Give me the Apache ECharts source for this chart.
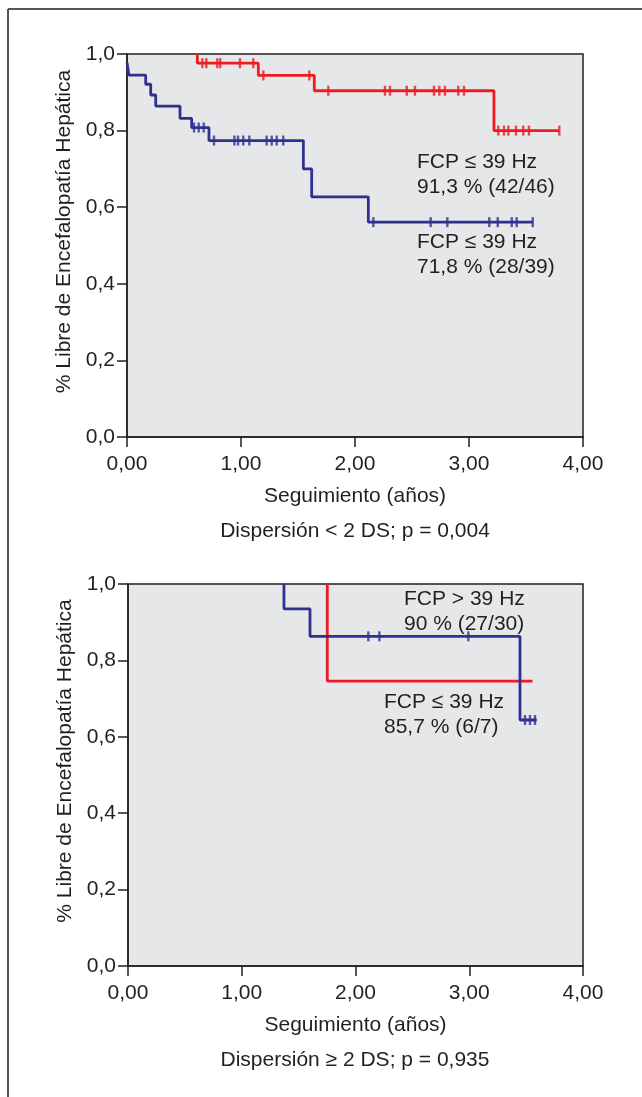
<!DOCTYPE html>
<html><head><meta charset="utf-8">
<script src="https://cdn.jsdelivr.net/npm/echarts@6/dist/echarts.min.js"></script>
<style>html,body{margin:0;padding:0;background:#fff}#c{width:642px;height:1097px}</style>
</head><body><div id="c"></div>
<script>
// ---- Top chart (Dispersión < 2 DS) ----
const redTopStart = [0.617, 1.0];
const redTopDropTimes = [0.617, 1.152, 1.643, 3.219];
const redTopDropValues = [0.976, 0.944, 0.904, 0.800];
const redTopEnd = 3.792;
const redTopCensored = [0.661, 0.696, 0.792, 0.818, 0.991, 1.108, 1.196, 1.599, 1.766, 2.263, 2.307, 2.454, 2.526, 2.693, 2.740, 2.789, 2.906, 2.956, 3.257, 3.307, 3.345, 3.412, 3.476, 3.526, 3.792];

const blueTopStart = [0, 0.978];
const blueTopDropTimes = [0.016, 0.164, 0.208, 0.252, 0.465, 0.567, 0.719, 1.547, 1.620, 2.117];
const blueTopDropValues = [0.945, 0.921, 0.893, 0.864, 0.832, 0.808, 0.774, 0.700, 0.627, 0.561];
const blueTopEnd = 3.559;
const blueTopCensored = [0.588, 0.629, 0.673, 0.763, 0.942, 0.974, 1.020, 1.073, 1.225, 1.269, 1.313, 1.371, 2.161, 2.664, 2.810, 3.178, 3.252, 3.375, 3.418, 3.559];

// ---- Bottom chart (Dispersión >= 2 DS) ----
const blueBotStart = [1.371, 1.0];
const blueBotDropTimes = [1.371, 1.600, 3.446];
const blueBotDropValues = [0.935, 0.863, 0.644];
const blueBotEnd = 3.593;
const blueBotCensored = [2.113, 2.210, 2.992, 3.490, 3.534, 3.578];

const redBotStart = [1.752, 1.0];
const redBotDropTimes = [1.752];
const redBotDropValues = [0.746];
const redBotEnd = 3.556;
const redBotCensored = [];

// ---- Axis ticks and texts ----
const xTicks = [0, 1, 2, 3, 4];
const yTicks = [0, 0.2, 0.4, 0.6, 0.8, 1.0];
const xName = 'Seguimiento (años)';
const yName = '% Libre de Encefalopatía Hepática';
const topLabels = ['FCP ≤ 39 Hz', '91,3 % (42/46)', 'FCP ≤ 39 Hz', '71,8 % (28/39)'];
const botLabels = ['FCP > 39 Hz', '90 % (27/30)', 'FCP ≤ 39 Hz', '85,7 % (6/7)'];
const captions = ['Dispersión < 2 DS; p = 0,004', 'Dispersión ≥ 2 DS; p = 0,935'];

const RED = '#ed1c24', BLUE = '#2e3192', INK = '#231f20';
const FONT = "'Liberation Sans', Arial, Helvetica, sans-serif";
const FS = 21;

function km(start, dropTimes, dropValues, endTime) {
  const pts = [[start[0], start[1]]];
  let v = start[1];
  dropTimes.forEach((t, i) => { pts.push([t, v]); v = dropValues[i]; pts.push([t, v]); });
  pts.push([endTime, v]);
  return pts;
}
function valAt(start, dropTimes, dropValues, t) {
  let v = start[1];
  dropTimes.forEach((d, i) => { if (t >= d) v = dropValues[i]; });
  return v;
}
function censorPts(start, dropTimes, dropValues, cens) {
  return cens.map(t => [t, valAt(start, dropTimes, dropValues, t)]);
}
function lineS(idx, data, color) {
  return { type: 'line', xAxisIndex: idx, yAxisIndex: idx, data, showSymbol: false, symbol: 'none',
    lineStyle: { color, width: 2.8 }, itemStyle: { color }, z: 3, animation: false, silent: true };
}
function censS(idx, data, color) {
  return { type: 'scatter', xAxisIndex: idx, yAxisIndex: idx, data, symbol: 'rect', symbolSize: [2.4, 10],
    itemStyle: { color }, z: 4, animation: false, silent: true };
}
function xAx(idx) {
  return { gridIndex: idx, type: 'value', min: xTicks[0], max: xTicks[xTicks.length - 1], interval: xTicks[1] - xTicks[0],
    axisLine: { show: true, lineStyle: { color: INK, width: 1.5 } },
    axisTick: { show: true, length: 10, lineStyle: { color: INK, width: 1.5 } },
    axisLabel: { fontSize: FS, color: INK, fontFamily: FONT, margin: 17, formatter: v => v.toFixed(2).replace('.', ',') },
    splitLine: { show: false },
    name: xName, nameLocation: 'middle', nameGap: 49,
    nameTextStyle: { fontSize: FS, color: INK, fontFamily: FONT } };
}
function yAx(idx) {
  return { gridIndex: idx, type: 'value', min: yTicks[0], max: yTicks[yTicks.length - 1], interval: yTicks[1] - yTicks[0],
    axisLine: { show: true, lineStyle: { color: INK, width: 1.5 } },
    axisTick: { show: true, length: 10, lineStyle: { color: INK, width: 1.5 } },
    axisLabel: { fontSize: FS, color: INK, fontFamily: FONT, margin: 12, formatter: v => v.toFixed(1).replace('.', ',') },
    splitLine: { show: false },
    name: yName, nameLocation: 'middle', nameGap: 50, nameRotate: 90,
    nameTextStyle: { fontSize: FS, color: INK, fontFamily: FONT, padding: [0, 0, 0, 28] } };
}
function txt(text, x, y, align) {
  return { type: 'text', x, y, silent: true,
    style: { text, fill: INK, font: FS + 'px ' + FONT, textAlign: align || 'left', textVerticalAlign: 'middle', verticalAlign: 'middle' } };
}

const chart = echarts.init(document.getElementById('c'), null, { renderer: 'canvas' });
chart.setOption({
  animation: false,
  backgroundColor: '#ffffff',
  grid: [
    { left: 127, top: 54, width: 456, height: 383, show: true, backgroundColor: '#e6e7e8', borderColor: INK, borderWidth: 1.5 },
    { left: 128, top: 584, width: 455, height: 382, show: true, backgroundColor: '#e6e7e8', borderColor: INK, borderWidth: 1.5 }
  ],
  xAxis: [xAx(0), xAx(1)],
  yAxis: [yAx(0), yAx(1)],
  series: [
    lineS(0, km(redTopStart, redTopDropTimes, redTopDropValues, redTopEnd), RED),
    censS(0, censorPts(redTopStart, redTopDropTimes, redTopDropValues, redTopCensored), RED),
    lineS(0, km(blueTopStart, blueTopDropTimes, blueTopDropValues, blueTopEnd), BLUE),
    censS(0, censorPts(blueTopStart, blueTopDropTimes, blueTopDropValues, blueTopCensored), BLUE),
    lineS(1, km(redBotStart, redBotDropTimes, redBotDropValues, redBotEnd), RED),
    censS(1, censorPts(redBotStart, redBotDropTimes, redBotDropValues, redBotCensored), RED),
    lineS(1, km(blueBotStart, blueBotDropTimes, blueBotDropValues, blueBotEnd), BLUE),
    censS(1, censorPts(blueBotStart, blueBotDropTimes, blueBotDropValues, blueBotCensored), BLUE)
  ],
  graphic: [
    { type: 'line', silent: true, shape: { x1: 8, y1: 9, x2: 642, y2: 9 }, style: { stroke: '#555', lineWidth: 2 } },
    { type: 'line', silent: true, shape: { x1: 8, y1: 9, x2: 8, y2: 1097 }, style: { stroke: '#555', lineWidth: 2 } },
    txt(topLabels[0], 417, 162), txt(topLabels[1], 417, 187),
    txt(topLabels[2], 417, 242), txt(topLabels[3], 417, 267),
    txt(botLabels[0], 404, 599), txt(botLabels[1], 404, 624),
    txt(botLabels[2], 384, 702), txt(botLabels[3], 384, 727),
    txt(captions[0], 355, 531, 'center'),
    txt(captions[1], 355, 1060, 'center')
  ]
});
</script>
</body></html>
